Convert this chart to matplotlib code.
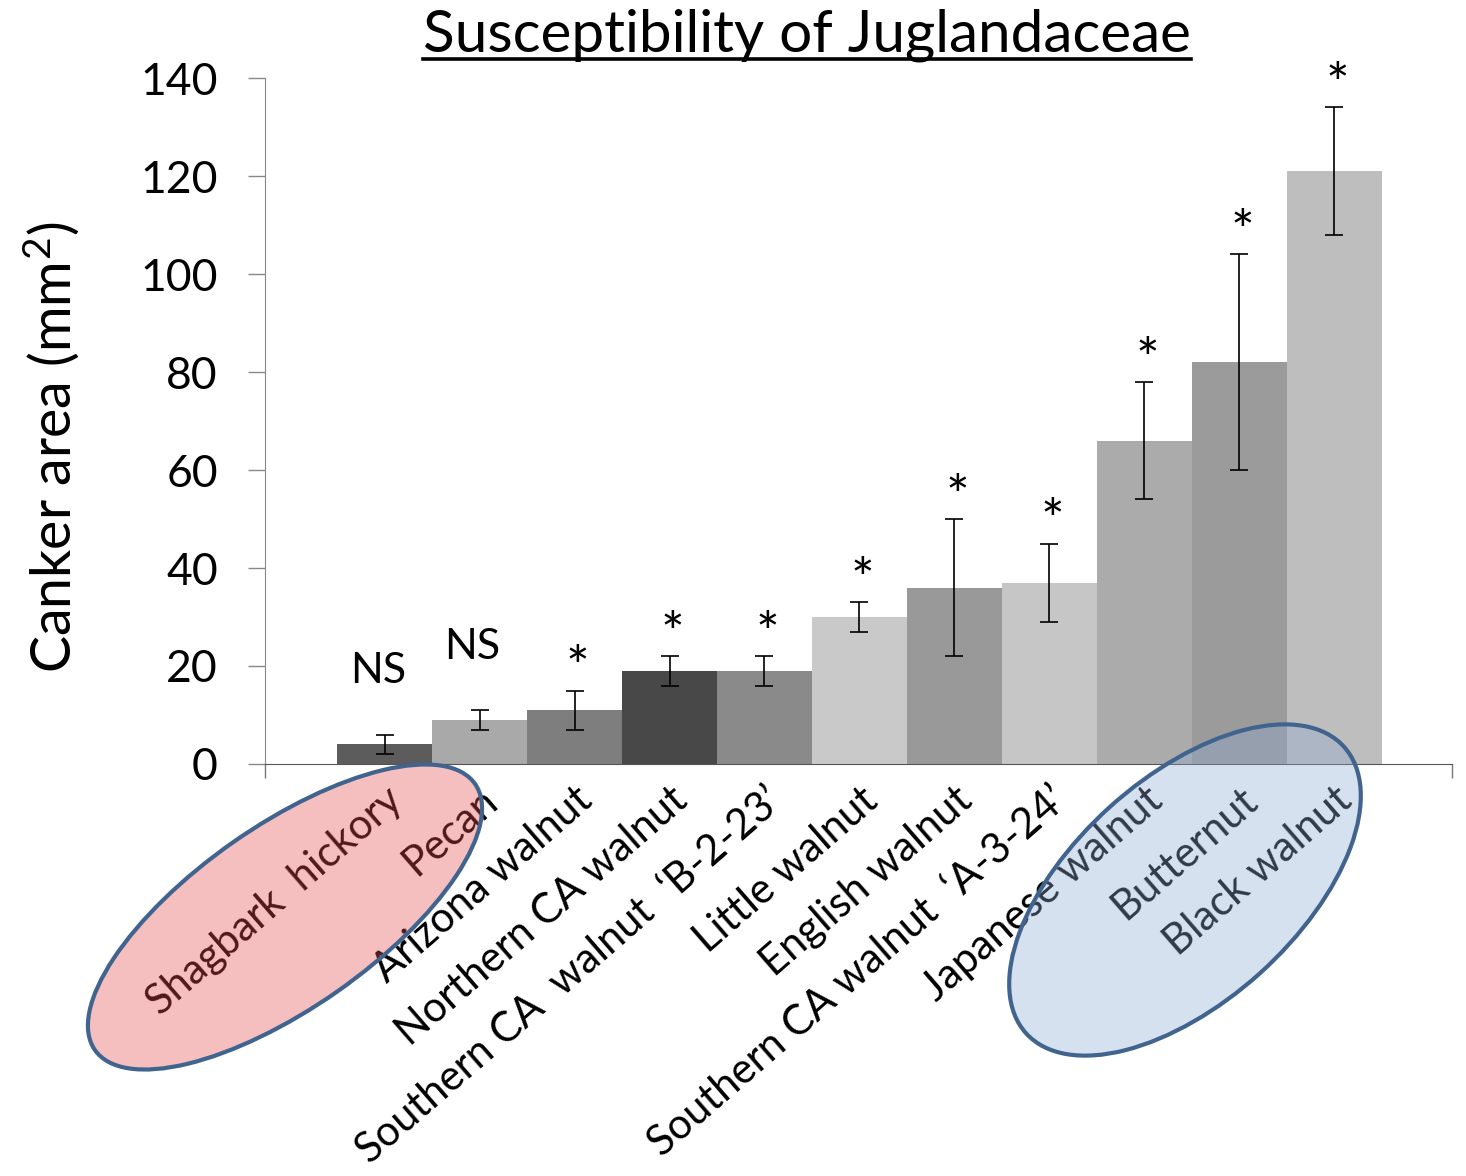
import matplotlib
matplotlib.use('Agg')
import matplotlib.pyplot as plt
from matplotlib.patches import Ellipse
from matplotlib.lines import Line2D
from matplotlib.transforms import IdentityTransform
import numpy as np

# ── data ──
SPECIES = [
    'Shagbark  hickory', 'Pecan', 'Arizona walnut', 'Northern CA walnut',
    'Southern CA  walnut  \u2018B-2-23\u2019', 'Little walnut', 'English walnut',
    'Southern CA walnut  \u2018A-3-24\u2019', 'Japanese walnut', 'Butternut',
    'Black walnut',
]
CANKER_AREA = [4, 9, 11, 19, 19, 30, 36, 37, 66, 82, 121]
ERR = [2, 2, 4, 3, 3, 3, 14, 8, 12, 22, 13]
SIG = ['NS', 'NS', '*', '*', '*', '*', '*', '*', '*', '*', '*']
BAR_GREYS = ['#5c5c5c', '#a9a9a9', '#7e7e7e', '#484848', '#8a8a8a', '#c9c9c9',
             '#999999', '#c6c6c6', '#ababab', '#9b9b9b', '#bebebe']

W, H = 1466, 1176

plt.rcParams['font.family'] = ['Lato', 'DejaVu Sans']
plt.rcParams['mathtext.fontset'] = 'custom'
plt.rcParams['mathtext.rm'] = 'Lato'
plt.rcParams['mathtext.it'] = 'Lato:italic'

fig = plt.figure(figsize=(W / 100, H / 100), dpi=100)
ax = fig.add_axes([265 / W, 1 - 764 / H, (1452 - 265) / W, (764 - 78) / H])

x = np.arange(len(SPECIES))
ax.bar(x, CANKER_AREA, width=1.0, color=BAR_GREYS, edgecolor='none', zorder=2)
ax.errorbar(x, CANKER_AREA, yerr=ERR, fmt='none', ecolor='black',
            elinewidth=1.2, capsize=6.5, capthick=1.2, zorder=3)

for xi, v, e, s in zip(x, CANKER_AREA, ERR, SIG):
    if s == 'NS':
        ax.annotate(s, (xi, v + e), xytext=(-5, 37), textcoords='offset points',
                    ha='center', va='baseline', fontsize=31)
    else:
        ax.annotate(s, (xi, v + e), xytext=(2, 3), textcoords='offset points',
                    ha='center', va='baseline', fontsize=40)

ax.set_xlim(-1.26, 11.24)
ax.set_ylim(0, 140)
ax.set_yticks(np.arange(0, 141, 20))
ax.tick_params(axis='y', direction='out', length=12, width=1, color='#888888',
               labelsize=32, pad=22)
ax.set_xticks(x)
ax.set_xticklabels(SPECIES, rotation=41, ha='right', va='top',
                   rotation_mode='anchor', fontsize=30)
ax.tick_params(axis='x', length=0, pad=12)
ax.set_xticks([-1.26, 11.24], minor=True)
ax.tick_params(axis='x', which='minor', direction='out', length=10, width=1,
               color='#777777')

for side in ['top', 'right']:
    ax.spines[side].set_visible(False)
ax.spines['left'].set_color('#888888')
ax.spines['bottom'].set_color('#555555')

fig.text(51 / W, 1 - 447 / H, 'Canker area (mm$^2$)', rotation=90,
         ha='center', va='center', fontsize=40)

title = fig.text(807 / W, 1 - 51 / H, 'Susceptibility of Juglandaceae',
                 ha='center', va='baseline', fontsize=42)
fig.canvas.draw()
bb = title.get_window_extent()
fig.lines.append(Line2D([bb.x0, bb.x1], [H - 59, H - 59], color='black',
                        linewidth=2.6, transform=IdentityTransform()))

# highlight ellipses over the label groups
fig.patches.append(Ellipse((285, H - 917), 464, 182, angle=35,
                           facecolor=(232 / 255, 72 / 255, 72 / 255, 0.35),
                           edgecolor='#41648f', linewidth=3,
                           transform=IdentityTransform(), zorder=5))
fig.patches.append(Ellipse((1185, H - 890), 428, 224, angle=42,
                           facecolor=(140 / 255, 169 / 255, 211 / 255, 0.35),
                           edgecolor='#41648f', linewidth=3,
                           transform=IdentityTransform(), zorder=5))

fig.savefig('out.png', dpi=100)
